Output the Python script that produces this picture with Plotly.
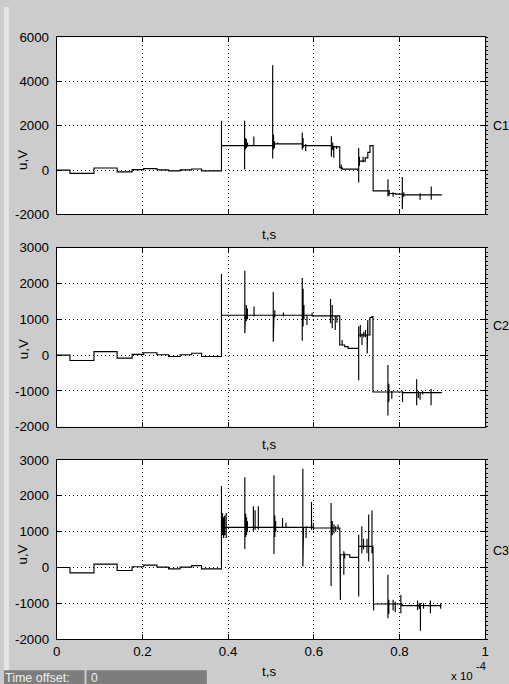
import plotly.graph_objects as go

W, H = 511, 694

# ---------------- data (t in units of 1e-4 s, u in V) ----------------
pre_t = [0, 0.031, 0.087, 0.141, 0.176, 0.203, 0.234, 0.261, 0.288, 0.315, 0.338]
pre_u = [0, -150, 95, -85, 20, 65, 10, -40, 10, 50, -40]

# C1 : step levels (level holds from t until next t; last entry = end of record)
c1_step_t = pre_t + [0.3845, 0.506, 0.574, 0.641, 0.6605, 0.666, 0.7047, 0.720, 0.726, 0.731,
                     0.7384, 0.774, 0.790, 0.807, 0.898]
c1_step_u = pre_u + [1105, 1180, 1105, 1045, 105, 45, 403, 552, 800, 1105,
                     -940, -1060, -1090, -1120, -1135]
c1_spike_t = [0.3845, 0.4385, 0.4405, 0.4425, 0.4455, 0.4600, 0.5040, 0.5060, 0.5085, 0.5155,
              0.5730, 0.5750, 0.5810, 0.6410, 0.6440, 0.6465, 0.6530, 0.6640, 0.7047, 0.7065,
              0.7150, 0.7730, 0.7760, 0.7850, 0.8065, 0.8100, 0.8480, 0.8740]
c1_spike_hi = [2224, 2224, 1450, 1400, 1250, 1520, 4733, 1600, 1300, 1250,
               1700, 1450, 1180, 1523, 1250, 1100, 1100, 254, 1000, 600,
               600, -418, -900, -1000, -313, -1000, -1050, -746]
c1_spike_lo = [1105, 30, 925, 1000, 1050, 1075, 522, 925, 1000, 1150,
               925, 1000, 850, 597, 900, 552, 950, 40, -567, 200,
               350, -1194, -1150, -1200, -1762, -1200, -1344, -1344]

# C2
c2_step_t = pre_t + [0.3845, 0.597, 0.6605, 0.672, 0.680, 0.7047, 0.731, 0.7355, 0.738, 0.807, 0.898]
c2_step_u = pre_u + [1112, 1095, 280, 234, 187, 560, 1050, 1076, -1030, -1048, -1060]
c2_spike_t = [0.3845, 0.4390, 0.4405, 0.4425, 0.4450, 0.4605, 0.5054, 0.5070, 0.5090, 0.5290,
              0.5730, 0.5750, 0.5770, 0.5840, 0.5960, 0.6390, 0.6430, 0.6500, 0.6540, 0.6620,
              0.6660, 0.7047, 0.7085, 0.7125, 0.7165, 0.7205, 0.7245, 0.7260, 0.7729, 0.7750,
              0.7820, 0.8070, 0.8400, 0.8440, 0.8480, 0.8540, 0.8736]
c2_spike_hi = [2260, 2355, 1450, 1400, 1300, 1355, 1757, 1500, 1250, 1190,
               2150, 1850, 1400, 1100, 1180, 1563, 1400, 1100, 1100, 520,
               420, 795, 840, 600, 650, 700, 560, 980, -280, -800,
               -1000, -1000, -674, -1000, -1050, -1000, -950]
c2_spike_lo = [1112, 607, 890, 950, 1000, 1075, 374, 900, 1050, 1075,
               400, 800, 1000, 840, 1090, 890, 750, 700, 900, 280,
               280, -700, 500, 280, 500, 500, 47, 560, -1685, -1300,
               -1217, -1310, -1400, -1200, -1250, -1100, -1400]

# C3
c3_step_t = pre_t + [0.3845, 0.600, 0.6605, 0.684, 0.7047, 0.738, 0.806, 0.898]
c3_step_u = pre_u + [1120, 1100, 355, 280, 590, -1020, -1065, -1065]
c3_spike_t = [0.3845, 0.3870, 0.3895, 0.3920, 0.3955, 0.4390, 0.4410, 0.4430, 0.4450, 0.4590,
              0.4630, 0.4705, 0.5070, 0.5090, 0.5110, 0.5270, 0.5350, 0.5744, 0.5760, 0.5820,
              0.5946, 0.5990, 0.6403, 0.6430, 0.6470, 0.6510, 0.6566, 0.6620, 0.6700, 0.6720,
              0.7047, 0.7120, 0.7160, 0.7240, 0.7280, 0.7357, 0.7395, 0.7729, 0.7750, 0.7850,
              0.7900, 0.8031, 0.8420, 0.8460, 0.8488, 0.8560, 0.8721, 0.8960]
c3_spike_hi = [2270, 1520, 1400, 1450, 1520, 2520, 1500, 1400, 1300, 1710,
               1600, 1710, 2570, 1450, 1300, 1380, 1250, 2757, 1520, 1150,
               1830, 1250, 1800, 1300, 1200, 1150, 1200, 355, 450, 400,
               916, 1150, 800, 800, 1477, 1590, -1020, -205, -900, -900,
               -950, -766, -925, -1000, -1000, -1000, -925, -1000]
c3_spike_lo = [1120, 900, 820, 900, 820, 514, 850, 900, 1000, 1010,
               1050, 1056, 374, 850, 1000, 1100, 1100, 28, 640, 820,
               1050, 1050, -514, 900, 950, 1000, 1050, -906, -205, 250,
               -813, 400, 500, 400, 168, 400, -1200, -1420, -1300, -1200,
               -1250, -1280, -1190, -1150, -1766, -1150, -1280, -1150]

channel_names = ["C1", "C2", "C3"]
x_tick_vals = [0, 0.2, 0.4, 0.6, 0.8, 1]
x_tick_text = ["0", "0.2", "0.4", "0.6", "0.8", "1"]
y1_tick_vals = [-2000, 0, 2000, 4000, 6000]
y23_tick_vals = [-2000, -1000, 0, 1000, 2000, 3000]


def build_path(step_t, step_u, spike_t, spike_hi, spike_lo):
    events = [(t, 0, i) for i, t in enumerate(step_t)] + [(t, 1, i) for i, t in enumerate(spike_t)]
    events.sort()
    xs, ys = [], []
    level = step_u[0]
    for t, kind, i in events:
        if kind == 0:
            xs += [t, t]
            ys += [level, step_u[i]]
            level = step_u[i]
        else:
            xs += [t, t, t, t]
            ys += [level, spike_hi[i], spike_lo[i], level]
    return xs, ys


# screen pixel (as photographed) -> paper fraction
def px(x):
    return ((x - 2) / 0.99) / W


def py(y):
    return 1 - ((y - 9) / 0.972) / H


fig = go.Figure()
channels = [
    (c1_step_t, c1_step_u, c1_spike_t, c1_spike_hi, c1_spike_lo),
    (c2_step_t, c2_step_u, c2_spike_t, c2_spike_hi, c2_spike_lo),
    (c3_step_t, c3_step_u, c3_spike_t, c3_spike_hi, c3_spike_lo),
]
for k, ch in enumerate(channels):
    xs, ys = build_path(*ch)
    sfx = "" if k == 0 else str(k + 1)
    fig.add_trace(go.Scatter(x=xs, y=ys, mode="lines", line=dict(color="black", width=1.15),
                             xaxis="x" + sfx, yaxis="y" + sfx, showlegend=False,
                             hoverinfo="skip"))
# empty traces carrying the right-hand minor-tick axes
for k in range(3):
    fig.add_trace(go.Scatter(x=[], y=[], xaxis="x" + ("" if k == 0 else str(k + 1)),
                             yaxis="y" + str(k + 4), showlegend=False))

font_main = "Liberation Sans, Arial, sans-serif"
tickfont = dict(family=font_main, size=13.3, color="black")

x_dom = [px(55), px(486)]
y_doms = [[py(215), py(39)], [py(426), py(248)], [py(637), py(459)]]
y_ranges = [[-2000, 6000], [-2000, 3000], [-2000, 3000]]
y_ticks = [y1_tick_vals, y23_tick_vals, y23_tick_vals]
minor_dt = [200, 125, 125]

common = dict(showline=True, linecolor="black", linewidth=1, mirror="ticks",
              ticks="inside", ticklen=5, tickcolor="black", tickwidth=1,
              showgrid=True, gridcolor="black", gridwidth=1, griddash="1px,3px",
              zeroline=False, tickfont=tickfont, fixedrange=True)

layout = dict(width=W, height=H, autosize=False,
              margin=dict(l=0, r=0, t=0, b=0, pad=0),
              paper_bgcolor="#cccccc", plot_bgcolor="white", showlegend=False)

for k in range(3):
    sfx = "" if k == 0 else str(k + 1)
    layout["xaxis" + sfx] = dict(common, domain=x_dom, range=[0, 1], anchor="y" + sfx,
                                 tickvals=x_tick_vals, ticktext=x_tick_text,
                                 showticklabels=(k == 2))
    layout["yaxis" + sfx] = dict(common, domain=y_doms[k], range=y_ranges[k], anchor="x" + sfx,
                                 tickvals=y_ticks[k], ticktext=[str(v) for v in y_ticks[k]],
                                 ticklabelstandoff=4)
    layout["yaxis" + str(k + 4)] = dict(overlaying="y" + sfx, side="right", anchor="x" + sfx,
                                        range=y_ranges[k], tickmode="linear", tick0=-2000,
                                        dtick=minor_dt[k], ticks="outside", ticklen=2,
                                        tickcolor="black", tickwidth=1, showticklabels=False,
                                        showgrid=False, zeroline=False, showline=False,
                                        fixedrange=True)

fig.update_layout(**layout)

# window frame / status bar
shapes = [
    dict(type="rect", xref="paper", yref="paper", x0=0, x1=px(7), y0=0, y1=1,
         fillcolor="#e4e4e4", line_width=0, layer="below"),
    dict(type="rect", xref="paper", yref="paper", x0=0, x1=px(83), y0=0, y1=py(668),
         fillcolor="#7d7d7d", line_width=0, layer="above"),
    dict(type="rect", xref="paper", yref="paper", x0=px(85), x1=px(206), y0=0, y1=py(668),
         fillcolor="#7d7d7d", line_width=0, layer="above"),
]
fig.update_layout(shapes=shapes)

annots = []


def ann(text, x, y, size=13.3, xanchor="center", yanchor="middle", angle=0, color="black"):
    annots.append(dict(text=text, x=px(x), y=py(y), xref="paper",
                       yref="paper", showarrow=False, xanchor=xanchor, yanchor=yanchor,
                       textangle=angle, font=dict(family=font_main, size=size, color=color)))


for yy in [235, 444, 669]:
    ann("t,s", 269, yy)
for yy in [161, 349, 553]:
    ann("u,V", 21, yy, angle=-90)
for name, yy in zip(channel_names, [127, 326, 549]):
    ann(name, 492, yy, size=12.5, xanchor="left")
ann("x 10", 450, 674, size=11.5, xanchor="left")
ann("-4", 475, 664, size=11, xanchor="left")
ann("Time offset:", 1, 676, size=12.5, xanchor="left", color="#f0f0f0")
ann("0", 87, 676, size=12, xanchor="left", color="#f0f0f0")
fig.update_layout(annotations=annots)

fig.write_html("out.html", config={"displayModeBar": False},
               post_script="document.body.style.margin='0';"
                           "document.documentElement.style.overflow='hidden';"
                           "document.body.style.overflow='hidden';"
                           "document.documentElement.style.background='#e4e4e4';"
                           "document.body.style.background='#e4e4e4';")
